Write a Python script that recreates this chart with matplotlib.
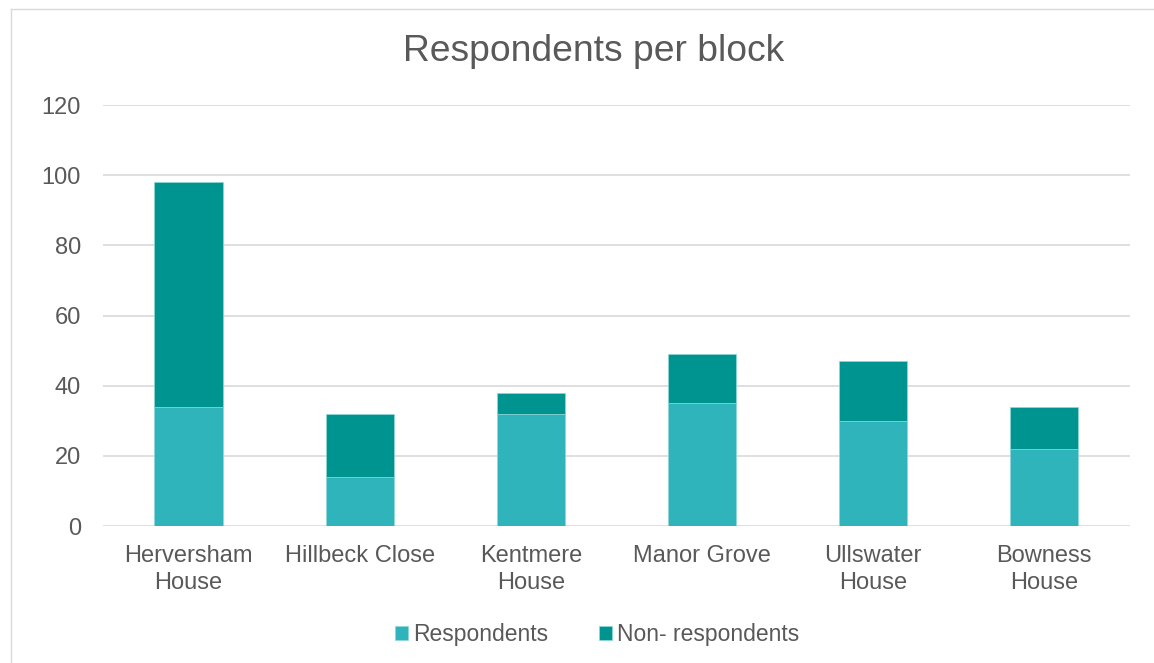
import matplotlib.pyplot as plt
from matplotlib.lines import Line2D

plt.rcParams['font.family'] = ['Liberation Sans', 'DejaVu Sans']

blocks = ['Herversham\nHouse', 'Hillbeck Close', 'Kentmere\nHouse',
          'Manor Grove', 'Ullswater\nHouse', 'Bowness\nHouse']
respondents = [34, 14, 32, 35, 30, 22]
non_respondents = [64, 18, 6, 14, 17, 12]

text_col = '#595959'
resp_col = '#2FB4BC'
non_col = '#009491'

fig = plt.figure(figsize=(11.54, 6.63), dpi=100)
ax = fig.add_axes([0.0893, 0.2066, 0.8897, 0.635])

x = range(len(blocks))
ax.bar(x, respondents, width=0.4, color=resp_col, label='Respondents',
       edgecolor='#8fd6da', linewidth=0.5, zorder=3)
ax.bar(x, non_respondents, width=0.4, bottom=respondents, color=non_col,
       label='Non- respondents', edgecolor='#8fd6da', linewidth=0.5, zorder=3)

ax.set_xlim(-0.5, len(blocks) - 0.5)
ax.set_ylim(0, 120)
ax.set_yticks(range(0, 121, 20))
ax.set_xticks(list(x))
ax.set_xticklabels(blocks, fontsize=17, color=text_col, linespacing=1.32)
ax.tick_params(axis='y', labelsize=17, labelcolor=text_col, length=0, pad=16)
ax.tick_params(axis='x', length=0, pad=13.5)
ax.grid(axis='y', color='#D9D9D9', linewidth=1.2, zorder=0)
for s in ax.spines.values():
    s.set_visible(False)

fig.text(0.514, 0.922, 'Respondents per block', ha='center', va='center',
         fontsize=26.8, color=text_col)

ax.legend(loc='center', bbox_to_anchor=(0.481, -0.258), ncol=2, frameon=False,
          fontsize=16.5, labelcolor=text_col, handlelength=0.6, handleheight=0.6,
          handletextpad=0.2, columnspacing=2.2)

# chart border (cut off at top/right like the screenshot)
fig.add_artist(Line2D([11 / 1154, 11 / 1154], [0, 1 - 9 / 663],
                      transform=fig.transFigure, color='#D9D9D9', linewidth=1))
fig.add_artist(Line2D([11 / 1154, 1], [1 - 9 / 663, 1 - 9 / 663],
                      transform=fig.transFigure, color='#D9D9D9', linewidth=1))

fig.savefig('out.png', dpi=100)
